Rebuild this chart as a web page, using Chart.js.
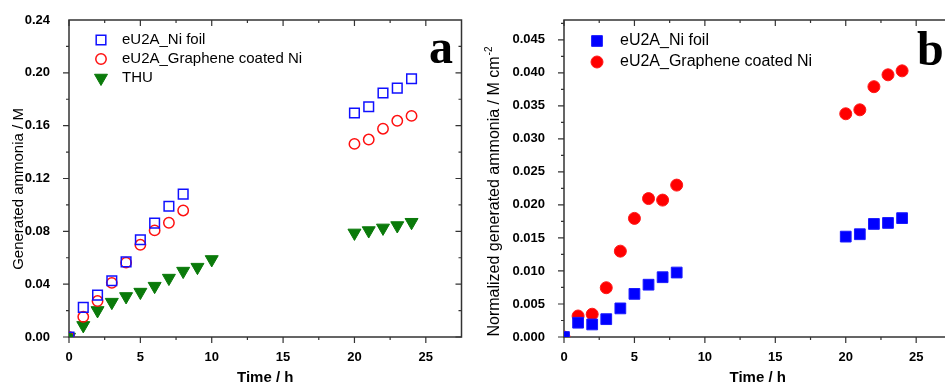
<!DOCTYPE html>
<html>
<head>
<meta charset="utf-8">
<script src="https://cdn.jsdelivr.net/npm/chart.js@4.4.1/dist/chart.umd.min.js"></script>
<style>
  body { margin: 0; background: #fff; overflow: hidden; width: 945px; height: 387px; position: relative; }
  canvas { position: absolute; top: 0; }
  #chartA { left: 0; }
  #chartB { left: 470px; }
</style>
</head>
<body>
<canvas id="chartA" width="470" height="387"></canvas>
<canvas id="chartB" width="490" height="387"></canvas>
<script>
// sampling times (h)
const hours = [0, 1, 2, 3, 4, 5, 6, 7, 8, 20, 21, 22, 23, 24];
const hoursThu = [0, 1, 2, 3, 4, 5, 6, 7, 8, 9, 10, 20, 21, 22, 23, 24];

// panel a: generated ammonia / M
const niFoilA = [0, 0.0224, 0.0317, 0.0426, 0.0569, 0.0736, 0.0862, 0.099, 0.1082, 0.1696, 0.1743, 0.1847, 0.1884, 0.1955];
const grapheneA = [0, 0.0153, 0.0272, 0.041, 0.0563, 0.0698, 0.0807, 0.0865, 0.0958, 0.1462, 0.1495, 0.1577, 0.1637, 0.1674];
const thuA = [0, 0.0088, 0.0201, 0.0264, 0.0307, 0.034, 0.0385, 0.0446, 0.0499, 0.0529, 0.0587, 0.0788, 0.0806, 0.0826, 0.0844, 0.0869];

// panel b: normalized generated ammonia / M cm-2
const niFoilB = [0, 0.00216, 0.0019, 0.0027, 0.00433, 0.00653, 0.00792, 0.00905, 0.00976, 0.0152, 0.01556, 0.01712, 0.01727, 0.018];
const grapheneB = [0, 0.00318, 0.00345, 0.00746, 0.013, 0.01796, 0.02096, 0.02073, 0.023, 0.0338, 0.0344, 0.0379, 0.0397, 0.0403];

const xTicks = [0, 5, 10, 15, 20, 25];
const yTicksA = [0, 0.04, 0.08, 0.12, 0.16, 0.20, 0.24];
const yTicksB = [0, 0.005, 0.010, 0.015, 0.020, 0.025, 0.030, 0.035, 0.040, 0.045];

const FONT = "'Liberation Sans', Arial, sans-serif";

const toPoints = (xs, ys) => ys.map((v, i) => ({ x: xs[i], y: v }));

// box with Origin-style ticks: outward on left/bottom, inward on top/right
const frame = {
  id: 'frame',
  beforeDatasetsDraw(chart, args, opts) {
    const { ctx, chartArea: a, scales } = chart;
    const x = scales.x, y = scales.y;
    ctx.save();
    ctx.strokeStyle = '#333';
    ctx.lineWidth = 1.5;
    ctx.strokeRect(a.left, a.top, a.right - a.left, a.bottom - a.top);
    ctx.lineWidth = 1.2;
    ctx.beginPath();
    const tick = (x1, y1, x2, y2) => { ctx.moveTo(x1, y1); ctx.lineTo(x2, y2); };
    for (let i = 0; i * opts.xMinor < x.max - 1e-9; i++) {
      const px = x.getPixelForValue(i * opts.xMinor);
      const len = i % 2 === 0 ? 6 : 3;
      tick(px, a.bottom, px, a.bottom + len);
      tick(px, a.top, px, a.top + len);
    }
    for (let i = 0; i * opts.yMinor < y.max - 1e-9; i++) {
      const py = y.getPixelForValue(i * opts.yMinor);
      const len = i % 2 === 0 ? 6 : 3;
      tick(a.left - len, py, a.left, py);
      tick(a.right - len, py, a.right, py);
    }
    ctx.stroke();
    ctx.restore();
  }
};

// legend inside the plot, panel letter, rotated y title (with optional superscript)
const markerLegend = {
  id: 'markerLegend',
  afterDraw(chart, args, opts) {
    const { ctx } = chart;
    ctx.save();
    chart.data.datasets.forEach((ds, i) => {
      const cy = opts.top + i * opts.rowGap;
      ctx.fillStyle = ds.backgroundColor;
      ctx.strokeStyle = ds.borderColor;
      ctx.lineWidth = ds.borderWidth;
      Chart.helpers.drawPoint(ctx, {
        pointStyle: ds.pointStyle,
        radius: ds.pointRadius,
        rotation: ds.pointRotation || 0,
        borderWidth: ds.borderWidth
      }, opts.markerX, cy);
      ctx.fillStyle = '#000';
      ctx.font = opts.font;
      ctx.textBaseline = 'middle';
      ctx.fillText(ds.label, opts.textX, cy);
    });
    ctx.fillStyle = '#000';
    ctx.font = "bold 48px 'Liberation Serif', 'Times New Roman', serif";
    ctx.textBaseline = 'alphabetic';
    ctx.fillText(opts.letter, opts.letterX, opts.letterY);

    // y title
    const t = opts.yTitle;
    ctx.translate(t.x, t.y);
    ctx.rotate(-Math.PI / 2);
    ctx.textBaseline = 'middle';
    ctx.textAlign = 'left';
    ctx.font = `${t.size}px ${FONT}`;
    const mainW = ctx.measureText(t.text).width;
    let supW = 0;
    if (t.sup) {
      ctx.font = `${Math.round(t.size * 0.62)}px ${FONT}`;
      supW = ctx.measureText(t.sup).width;
    }
    const start = -(mainW + supW) / 2;
    ctx.font = `${t.size}px ${FONT}`;
    ctx.fillText(t.text, start, 0);
    if (t.sup) {
      ctx.font = `${Math.round(t.size * 0.62)}px ${FONT}`;
      ctx.fillText(t.sup, start + mainW + 1, -t.size * 0.38);
    }
    ctx.restore();
  }
};

function makeScales(yMax, yTicks, digits, yWidth) {
  return {
    x: {
      type: 'linear', min: 0, max: 27.5,
      afterBuildTicks: s => { s.ticks = xTicks.map(v => ({ value: v })); },
      afterFit: s => { s.height = 50; },
      grid: { display: false }, border: { display: false },
      ticks: { color: '#000', autoSkip: false, maxRotation: 0, padding: 5,
        font: { family: FONT, size: 13, weight: 'bold' } },
      title: { display: true, text: 'Time / h', color: '#000', padding: { top: 0, bottom: 0 },
        font: { family: FONT, size: 15, weight: 'bold' } }
    },
    y: {
      type: 'linear', min: 0, max: yMax,
      afterBuildTicks: s => { s.ticks = yTicks.map(v => ({ value: v })); },
      afterFit: s => { s.width = yWidth; },
      grid: { display: false }, border: { display: false },
      ticks: { color: '#000', autoSkip: false, padding: 11,
        font: { family: FONT, size: 13, weight: 'bold' },
        callback: v => v.toFixed(digits) }
    }
  };
}

new Chart(document.getElementById('chartA'), {
  type: 'scatter',
  data: {
    datasets: [
      { label: 'eU2A_Ni foil', data: toPoints(hours, niFoilA), pointStyle: 'rect', pointRadius: 6.8,
        backgroundColor: 'rgba(0,0,0,0)', borderColor: '#1010ff', borderWidth: 1.5, clip: 0 },
      { label: 'eU2A_Graphene coated Ni', data: toPoints(hours, grapheneA), pointStyle: 'circle', pointRadius: 5.2,
        backgroundColor: 'rgba(0,0,0,0)', borderColor: '#ff1010', borderWidth: 1.5, clip: 0 },
      { label: 'THU', data: toPoints(hoursThu, thuA), pointStyle: 'triangle', pointRadius: 7.5, pointRotation: 180,
        backgroundColor: '#0a7a0a', borderColor: '#0a7a0a', borderWidth: 1, clip: 0 }
    ]
  },
  options: {
    responsive: false,
    animation: false,
    events: [],
    layout: { padding: { top: 20, right: 8, left: 0, bottom: 0 } },
    scales: makeScales(0.24, yTicksA, 2, 69),
    plugins: {
      legend: { display: false },
      tooltip: { enabled: false },
      frame: { xMinor: 2.5, yMinor: 0.02 },
      markerLegend: { top: 40, rowGap: 19, markerX: 101, textX: 122, font: `15px ${FONT}`,
        letter: 'a', letterX: 429, letterY: 63,
        yTitle: { text: 'Generated ammonia / M', x: 19, y: 189, size: 15 } }
    }
  },
  plugins: [frame, markerLegend]
});

new Chart(document.getElementById('chartB'), {
  type: 'scatter',
  data: {
    datasets: [
      { label: 'eU2A_Ni foil', data: toPoints(hours, niFoilB), pointStyle: 'rect', pointRadius: 7.6,
        backgroundColor: '#0000ff', borderColor: '#1a1aff', borderWidth: 1, clip: 0 },
      { label: 'eU2A_Graphene coated Ni', data: toPoints(hours, grapheneB), pointStyle: 'circle', pointRadius: 6,
        backgroundColor: '#ff0000', borderColor: '#ff1a1a', borderWidth: 1, clip: 0 }
    ]
  },
  options: {
    responsive: false,
    animation: false,
    events: [],
    layout: { padding: { top: 20, right: 3.6, left: 0, bottom: 0 } },
    scales: makeScales(0.048, yTicksB, 3, 94),
    plugins: {
      legend: { display: false },
      tooltip: { enabled: false },
      frame: { xMinor: 2.5, yMinor: 0.0025 },
      markerLegend: { top: 41, rowGap: 21, markerX: 127, textX: 150, font: `16px ${FONT}`,
        letter: 'b', letterX: 447, letterY: 65,
        yTitle: { text: 'Normalized generated ammonia / M cm', sup: '-2', x: 25, y: 192, size: 16 } }
    }
  },
  plugins: [frame, markerLegend]
});
</script>
</body>
</html>
